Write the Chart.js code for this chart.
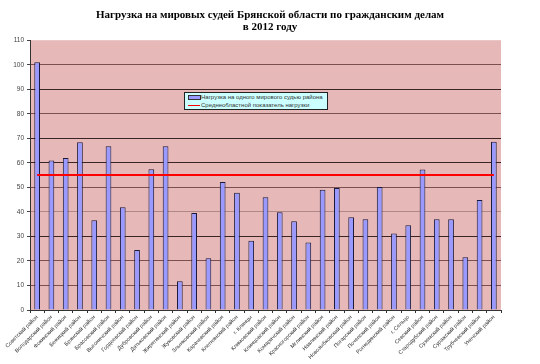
<!DOCTYPE html>
<html>
<head>
<meta charset="utf-8">
<script src="https://cdn.jsdelivr.net/npm/chart.js@4"></script>
<style>
  html, body { margin: 0; padding: 0; background: #fff; }
  #wrap { position: relative; width: 540px; height: 364px; }
  #legend {
    position: absolute; left: 184px; top: 92px; width: 142px; height: 16px;
    background: #ccffff; border: 1px solid #222;
    font: 6px 'Liberation Sans', Arial, sans-serif; color: #333;
  }
  #legend div { position: relative; height: 8px; line-height: 8px; padding-left: 16px; white-space: nowrap; }
  #legend .sw-bar { position: absolute; left: 3px; top: 2px; width: 11px; height: 3px; background: #9999ff; border: 1px solid #333; }
  #legend .sw-line { position: absolute; left: 3px; top: 4px; width: 12px; height: 1px; background: #ff0000; }
</style>
</head>
<body>
<div id="wrap">
  <canvas id="c" width="540" height="364"></canvas>
  <div id="legend">
    <div><span class="sw-bar"></span>Нагрузка на одного мирового судью района</div>
    <div><span class="sw-line"></span>Среднеобластной показатель нагрузки</div>
  </div>
</div>
<script>
// ── Данные ────────────────────────────────────────────────
const districts = [
  'Советский район', 'Володарский район', 'Фокинский район', 'Бежицкий район',
  'Брянский район', 'Брасовский район', 'Выгоничский район', 'Гордеевский район',
  'Дубровский район', 'Дятьковский район', 'Жирятинский район', 'Жуковский район',
  'Злынковский район', 'Карачевский район', 'Клетнянский район', 'г. Клинцы',
  'Климовский район', 'Клинцовский район', 'Комаричский район', 'Красногорский район',
  'Мглинский район', 'Навлинский район', 'Новозыбковский район', 'Погарский район',
  'Почепский район', 'Рогнединский район', 'г. Сельцо', 'Севский район',
  'Стародубский район', 'Суземский район', 'Суражский район', 'Трубчевский район',
  'Унечский район'
];
const loadPerJudge = [
  101, 61, 62, 68.4, 36.6, 66.8, 41.9, 24.5, 57.4, 66.8, 11.7,
  39.5, 21.1, 52.2, 47.8, 28.2, 46, 39.9, 36.2, 27.5, 49, 49.7,
  37.8, 37, 50.1, 31.2, 34.6, 57.3, 37, 37, 21.5, 44.8, 68.6
];
const AVG_LOAD = 55;
const avgSeries = districts.map(() => AVG_LOAD);
const yTicks = [0, 10, 20, 30, 40, 50, 60, 70, 80, 90, 100, 110];

const titleLines = [
  'Нагрузка на мировых судей Брянской области по гражданским делам',
  'в 2012 году'
];

// фон области построения
const plotBg = {
  id: 'plotBg',
  beforeDraw(chart) {
    const { ctx, chartArea: a } = chart;
    ctx.save();
    ctx.fillStyle = '#e6b9b8';
    ctx.fillRect(a.left, a.top, a.right - a.left, a.bottom - a.top);
    ctx.restore();
  }
};

const gridShade = v => {
  if (v === 0 || v === 110) return 'rgba(0,0,0,0)';
  if ([90, 70, 60, 30].includes(v)) return '#3a2424';
  if (v === 40) return '#b08888';
  return '#7a5050';
};

new Chart(document.getElementById('c'), {
  type: 'bar',
  plugins: [plotBg],
  data: {
    labels: districts,
    datasets: [
      {
        type: 'line',
        label: 'Среднеобластной показатель нагрузки',
        data: avgSeries,
        borderColor: '#ff0000',
        borderWidth: 2,
        pointRadius: 0,
        tension: 0,
        order: 0
      },
      {
        label: 'Нагрузка на одного мирового судью района',
        data: loadPerJudge,
        backgroundColor: '#9999ff',
        borderColor: '#1a1a3a',
        borderWidth: 1,
        barPercentage: 0.4,
        categoryPercentage: 1,
        order: 1
      }
    ]
  },
  options: {
    responsive: false,
    animation: false,
    layout: { padding: 0 },
    plugins: {
      legend: { display: false },
      tooltip: { enabled: false },
      title: {
        display: true,
        text: titleLines,
        color: '#000',
        font: { family: "'Liberation Serif', 'Times New Roman', serif", size: 11, weight: 'bold', lineHeight: 1.1 },
        padding: { top: 9, bottom: 7 }
      }
    },
    scales: {
      x: {
        offset: true,
        grid: { offset: true, drawOnChartArea: false, tickLength: 3, color: '#333' },
        border: { color: '#333', width: 1 },
        ticks: {
          autoSkip: false,
          maxRotation: 45,
          minRotation: 45,
          padding: 1,
          color: '#333',
          font: { family: "'Liberation Sans', Arial, sans-serif", size: 5.5 }
        },
        afterFit(s) { s.height = 54; }
      },
      y: {
        min: 0,
        max: 110,
        afterBuildTicks(s) { s.ticks = yTicks.map(v => ({ value: v })); },
        grid: {
          color: ctx => gridShade(ctx.tick ? ctx.tick.value : -1),
          tickColor: '#444',
          tickLength: 3,
          lineWidth: 1
        },
        border: { color: '#333', width: 1 },
        ticks: {
          color: '#444',
          padding: 3,
          font: { family: "'Liberation Sans', Arial, sans-serif", size: 6.5 }
        },
        afterFit(s) { s.width = 30; }
      },
      // пустая правая ось, чтобы оставить поле справа и не сдвигать заголовок
      yRight: {
        position: 'right',
        display: true,
        min: 0,
        max: 110,
        grid: { display: false, drawTicks: false },
        border: { display: false },
        ticks: { display: false },
        afterFit(s) { s.width = 39; }
      }
    }
  }
});
</script>
</body>
</html>
